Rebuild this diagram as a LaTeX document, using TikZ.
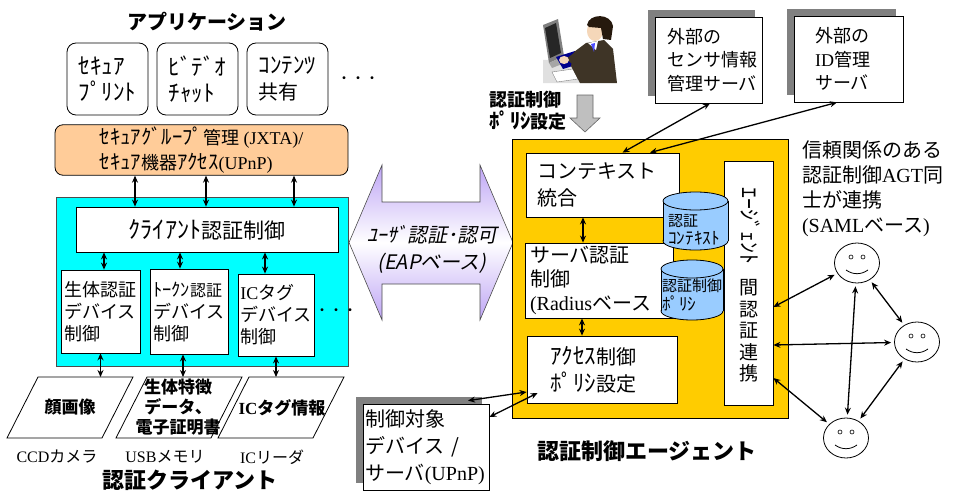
\documentclass[tikz,border=0pt]{standalone}
\usepackage{fontspec}
\setmainfont{Noto Sans CJK JP}
\newfontfamily\tms{Liberation Serif}
\newfontfamily\jpslant{Noto Sans CJK JP}[FakeSlant=0.2]
\newfontfamily\hwkana{Noto Sans CJK JP}[Scale=1.15]
\usetikzlibrary{arrows.meta,positioning,shapes.geometric,shadows}

\definecolor{grpfill}{RGB}{255,204,153}
\definecolor{clifill}{RGB}{0,255,255}
\definecolor{agtfill}{RGB}{255,204,0}
\definecolor{dbfill}{RGB}{153,204,255}
\definecolor{shadowgray}{RGB}{128,128,128}
\definecolor{lav}{RGB}{190,165,245}
\definecolor{suit}{RGB}{62,52,38}
\definecolor{skin}{RGB}{245,215,185}

\newcommand\jfs[2]{\fontsize{#1}{#2}\selectfont}
% half-width kana run, a bit larger than the kanji around it
\newcommand\hk[1]{{\hwkana #1}}

\begin{document}
\begin{tikzpicture}[
	x=1pt, y=-1pt, % pixel grid, y grows downwards
	> = {Stealth[length=7pt,width=6pt]}, % arrow head style
	link/.style={<->, line width=1.3pt},
	box/.style={draw, fill=white, line width=0.8pt, inner sep=2pt},
	app/.style={box, rounded corners=9pt, minimum width=81pt, minimum height=72pt, align=left, font=\jfs{20}{26}},
	dev/.style={box, minimum height=83pt, align=left, font=\jfs{18}{22}},
	srv/.style={box, minimum height=86pt, align=left, font=\jfs{18}{23.5},
		drop shadow={shadow xshift=-7pt, shadow yshift=7pt, fill=shadowgray, opacity=1}},
	agtbox/.style={box, align=left, font=\jfs{20}{26}},
	title/.style={font=\jfs{22}{26}\bfseries},
	para/.style={font=\jfs{17}{20}\bfseries, align=center},
	lbl/.style={font=\jfs{16}{20}},
	face/.style={draw, ellipse, line width=0.8pt, minimum width=45pt, minimum height=40pt},
	]
	\useasboundingbox (0,0) rectangle (953,495);

	% ---------------- client side ----------------
	\node[font=\jfs{20}{24}\bfseries] (apptitle) at (207,22) {アプリケーション};
	\node[app] (print) at (107.5,79) {\hk{ｾｷｭｱ}\\\hk{ﾌﾟﾘﾝﾄ}};
	\node[app] (video) at (197.5,79) {\hk{ﾋﾞﾃﾞｵ}\\\hk{ﾁｬｯﾄ}};
	\node[app] (share) at (287.5,79) {\hk{ｺﾝﾃﾝﾂ}\\共有};
	\node[font=\jfs{14}{16}] (appmore) at (358,80) {・・・};

	\node[box, fill=grpfill, rounded corners=8pt, minimum width=293pt, minimum height=50pt,
		align=left, font=\jfs{18}{25}] (grp) at (201.5,150)
		{\hk{ｾｷｭｱｸﾞﾙｰﾌﾟ}管理{\tms\ (JXTA)/}\\\hk{ｾｷｭｱ}機器\hk{ｱｸｾｽ}{\tms (UPnP)}};

	\node[draw=black!70, fill=clifill, line width=0.8pt, minimum width=292pt, minimum height=169pt] (clibox) at (202,281.5) {};
	\node[box, minimum width=262pt, minimum height=45pt, font=\jfs{21}{26}] (cli) at (207,229.5) {\hk{ｸﾗｲｱﾝﾄ}認証制御};

	\node[dev, minimum width=79pt] (bio) at (100.5,311.5) {生体認証\\デバイス\\制御};
	\node[dev, minimum width=78pt, minimum height=85pt] (tok) at (189,311.5) {{\jfs{16}{22}\hk{ﾄｰｸﾝ}認証}\\デバイス\\制御};
	\node[dev, minimum width=76pt, minimum height=82pt] (tag) at (276,315) {{\tms IC}タグ\\デバイス\\制御};
	\node[font=\jfs{14}{16}] (devmore) at (336,312) {・・・};

	% group layer <-> client control
	\foreach \dx in {-66.5, 4.5, 92.5}
		\draw[link] ([xshift=\dx pt]grp.south) -- ([xshift=\dx pt]grp.south |- cli.north);

	% client control <-> device drivers <-> data
	\coordinate (imgtop) at (0,377);
	\foreach \d/\a/\b in {bio/3.5/0, tok/-9/-6, tag/-11/0} {
		\draw[link] ([xshift=\a pt]\d.north) -- ([xshift=\a pt]\d.north |- cli.south);
		\draw[link] ([xshift=\b pt]\d.south) -- ([xshift=\b pt]\d.south |- imgtop);
	}

	% data sources
	\foreach \xt in {38, 147, 249}
		\draw[line width=0.8pt] (\xt-31,438) -- (\xt,377) -- (\xt+95,377) -- (\xt+64,438) -- cycle;
	\node[para] (imgface) at (70,407.5) {顔画像};
	\node[para] (imgbio) at (178,407.5) {生体特徴\\データ、\\電子証明書};
	\node[para] (imgtag) at (282,407.5) {{\tms IC}タグ情報};

	\node[lbl] (ccd) at (57,457) {{\tms CCD}カメラ};
	\node[lbl] (usb) at (165,457) {{\tms USB}メモリ};
	\node[lbl] (reader) at (272,457) {{\tms IC}リーダ};
	\node[title] (clititle) at (190,480) {認証クライアント};

	% ---------------- EAP exchange ----------------
	\path[draw=black!70, line width=0.6pt, top color=lav, bottom color=lav, middle color=white]
		(349,242.5) -- (382,165) -- (382,202) -- (480,202) -- (480,165) -- (513,242.5)
		-- (480,320) -- (480,284) -- (382,284) -- (382,320) -- cycle;
	\node[font=\jpslant\jfs{20}{27}, align=center] (eap) at (432,249) {ﾕｰｻﾞ認証･認可\\(EAPベース)};

	% ---------------- agent side ----------------
	% operator at the terminal
	\fill[black!12] (543,60) -- (590,58) -- (592,83) -- (543,83) -- cycle;
	\fill[black!50] (543,25) -- (558,19) -- (564,56) -- (549,63) -- cycle;
	\fill[black!85] (545,28) -- (556,23) -- (561,53) -- (550,58) -- cycle;
	\fill[black!35] (549,63) -- (564,56) -- (567,62) -- (552,68) -- cycle;
	\fill[blue!55!black] (556,57) -- (575,51) -- (582,63) -- (563,69) -- cycle;
	\filldraw[fill=white, draw=black!50, line width=0.4pt] (552,72) -- (573,69) -- (578,79) -- (557,82) -- cycle;
	\fill[suit] (574,52) -- (586,43) -- (604,40) -- (613,49) -- (617,83) -- (580,83) -- (571,66) -- cycle;
	\fill[suit] (566,59) -- (579,49) -- (591,62) -- (581,71) -- cycle;
	\fill[skin] (564,60) ellipse [x radius=5pt, y radius=4pt];
	\fill[white] (588,43) -- (598,41) -- (596,50) -- cycle;
	\fill[blue!70] (591,44) -- (595,43) -- (594,52) -- cycle;
	\fill[skin] (595,31) ellipse [x radius=8pt, y radius=10pt];
	\fill[black!80!brown] (587,25) .. controls (589,13) and (611,13) .. (613,26)
		-- (611,40) -- (603,39) -- (601,28) -- (589,27) -- cycle;

	\node[font=\jfs{18}{22}\bfseries, align=left] (pol) at (528,111) {認証制御\\\hk{ﾎﾟﾘｼ}設定};
	\filldraw[fill=black!25, draw=black!60, line width=0.6pt]
		(577,95) -- (593,95) -- (593,118) -- (600,118) -- (585,132) -- (570,118) -- (577,118) -- cycle;

	% external servers
	\node[srv, minimum width=107pt, text width=83pt] (extA) at (708.5,60) {外部の\\センサ情報\\管理サーバ};
	\node[srv, minimum width=109pt, text width=67pt] (extB) at (848.5,59) {外部の\\{\tms ID}管理\\サーバ};

	% the agent itself
	\node[draw, fill=agtfill, line width=0.8pt, minimum width=276pt, minimum height=279pt] (agt) at (650,278.5) {};
	\node[agtbox, minimum width=153pt, minimum height=64pt, text width=131pt, font=\jfs{20}{27}] (ctx) at (602.5,185) {コンテキスト\\統合};
	\node[agtbox, minimum width=148pt, minimum height=75pt, text width=138pt, font=\jfs{20}{24}] (sauth) at (599,280.5)
		{サーバ認証\\制御\\{\tms (Radius}ベース};
	\node[agtbox, minimum width=150pt, minimum height=67pt, text width=104pt, font=\jfs{20}{27}] (acc) at (602,369.5) {\hk{ｱｸｾｽ}制御\\\hk{ﾎﾟﾘｼ}設定};
	\node[box, minimum width=49pt, minimum height=244pt] (agtlink) at (748.5,283) {};
	\node[rotate=-90, font=\jfs{19}{22}\hwkana] (agtkana) at (750,226) {ｴｰｼﾞｪﾝﾄ};
	\node[font=\jfs{19}{21.5}, align=center] (agtkanji) at (749,331) {間\\認\\証\\連\\携};

	% context and policy stores
	\foreach \cx/\ytop/\ybot/\r in {695.5/192/250/32.5, 692/260/320/31} {
		\filldraw[fill=dbfill, line width=0.8pt] (\cx,\ybot-9) ellipse [x radius=\r pt, y radius=9pt];
		\fill[dbfill] (\cx-\r,\ytop+9) rectangle (\cx+\r,\ybot-9);
		\draw[line width=0.8pt] (\cx-\r,\ytop+9) -- (\cx-\r,\ybot-9) (\cx+\r,\ytop+9) -- (\cx+\r,\ybot-9);
		\filldraw[fill=dbfill, line width=0.8pt] (\cx,\ytop+9) ellipse [x radius=\r pt, y radius=9pt];
	}
	\node[font=\jfs{15}{18}, align=left] (ctxdb) at (694,230) {認証\\\hk{ｺﾝﾃｷｽﾄ}};
	\node[font=\jfs{15}{19}, align=left] (poldb) at (692,295) {認証制御\\\hk{ﾎﾟﾘｼ}};

	\draw[link] ([xshift=-19.5pt]ctx.south) -- ([xshift=-19.5pt]ctx.south |- sauth.north);
	\draw[link] ([xshift=-17pt]sauth.south) -- ([xshift=-17pt]sauth.south |- acc.north);
	\draw[link] ([xshift=1.5pt]extA.south) -- ([xshift=20pt]ctx.north);
	\draw[link] ([xshift=-11.5pt]extB.south) -- ([xshift=47.5pt]ctx.north);

	\node[font=\jfs{22}{26}\bfseries] (agttitle) at (647,451) {認証制御エージェント};

	% controlled device
	\node[srv, minimum width=124pt, text width=122pt, font=\jfs{20}{27}] (tgt) at (426,447) {制御対象\\デバイス /\\サーバ{\tms (UPnP)}};
	\draw[link] ([xshift=42pt,yshift=3pt]tgt.north) -- ([yshift=-22.5pt]acc.west);
	\draw[link] ([yshift=30pt]tgt.east) -- ([xshift=11pt,yshift=-23.5pt]acc.west);

	% ---------------- federation ----------------
	\node[font=\jfs{20}{25}, align=left, text width=148pt] (fedtext) at (876,189)
		{信頼関係のある\\認証制御{\tms AGT}同\\士が連携\\{\tms (SAML}ベース{\tms )}};

	\node[face] (f1) at (857,263) {};
	\node[face] (f2) at (917,342) {};
	\node[face] (f3) at (846,438) {};
	\foreach \f in {f1,f2,f3} {
		\draw[line width=0.6pt] ([xshift=-6pt,yshift=6pt]\f.center) circle (2pt)
			([xshift=6pt,yshift=6pt]\f.center) circle (2pt);
		\draw[line width=0.8pt] ([xshift=-11pt,yshift=-7pt]\f.center) to[bend right=35] ([xshift=11pt,yshift=-7pt]\f.center);
	}

	\draw[link, shorten >=3pt] ([yshift=-24pt]agtlink.east) -- (f1);
	\draw[link, shorten >=3pt] ([yshift=-62pt]agtlink.east) -- (f2);
	\draw[link, shorten >=3pt] ([yshift=-95pt]agtlink.east) -- (f3);
	\draw[link, shorten <=3pt, shorten >=3pt] (f1) -- (f2);
	\draw[link, shorten <=3pt, shorten >=3pt] (f1) -- (f3);
	\draw[link, shorten <=3pt, shorten >=3pt] (f2) -- (f3);
\end{tikzpicture}
\end{document}
